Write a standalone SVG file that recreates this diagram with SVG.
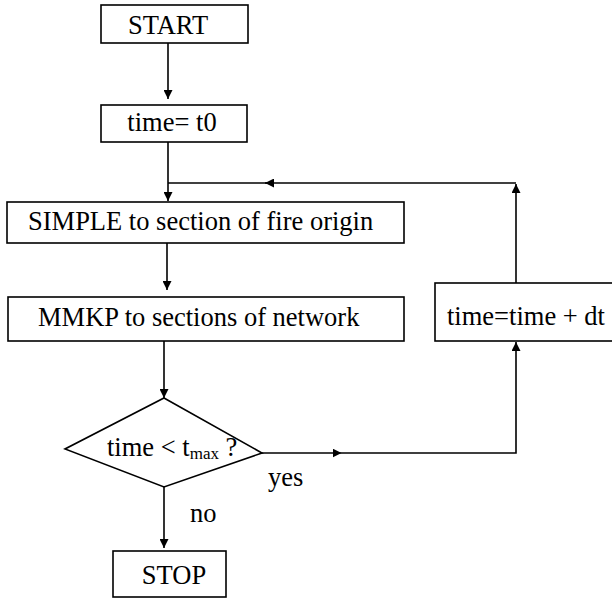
<svg xmlns="http://www.w3.org/2000/svg" width="612" height="599" viewBox="0 0 612 599">
<style>
.box{fill:#fff;stroke:#000;stroke-width:1.6}
.t{font-family:'Liberation Serif','DejaVu Serif','Times New Roman',serif;font-size:26.5px;fill:#000}
.c{fill:none;stroke:#000;stroke-width:1.6}
</style>
<defs>
<marker id="ah" viewBox="0 0 10 10" refX="10" refY="5" markerWidth="9" markerHeight="9" markerUnits="userSpaceOnUse" orient="auto">
<path d="M0,0 L10,5 L0,10 z" fill="#000"/>
</marker>
<marker id="mid" viewBox="0 0 10 10" refX="5" refY="5" markerWidth="9" markerHeight="9" markerUnits="userSpaceOnUse" orient="auto">
<path d="M0,0 L10,5 L0,10 z" fill="#000"/>
</marker>
</defs>
<rect width="612" height="599" fill="#fff"/>
<g id="connectors">
<line class="c" x1="168" y1="43" x2="168" y2="99" marker-end="url(#ah)"/>
<line class="c" x1="168" y1="142" x2="168" y2="201" marker-end="url(#ah)"/>
<line class="c" x1="167" y1="243" x2="167" y2="290" marker-end="url(#ah)"/>
<line class="c" x1="164" y1="341" x2="164" y2="398" marker-end="url(#ah)"/>
<line class="c" x1="164" y1="487" x2="164" y2="548" marker-end="url(#ah)"/>
<polyline class="c" points="262,453 337,453" marker-end="url(#mid)"/>
<polyline class="c" points="333,453 516,453 516,342" marker-end="url(#ah)"/>
<polyline class="c" points="516,283 516,184" marker-end="url(#ah)"/>
<polyline class="c" points="516,183 265,183" marker-end="url(#ah)"/>
<line class="c" x1="268" y1="183" x2="168" y2="183"/>
<text class="t" x="268" y="486">yes</text>
<text class="t" x="190" y="522">no</text>
</g>
<g id="start">
<rect class="box" x="101" y="5" width="147" height="38"/>
<text class="t" x="168" y="34" text-anchor="middle">START</text>
</g>
<g id="init">
<rect class="box" x="101" y="105" width="146" height="37"/>
<text class="t" x="172" y="131" text-anchor="middle">time= t0</text>
</g>
<g id="simple">
<rect class="box" x="7" y="202" width="397" height="41"/>
<text class="t" x="28" y="230">SIMPLE to section of fire origin</text>
</g>
<g id="mmkp">
<rect class="box" x="8" y="297" width="396" height="44"/>
<text class="t" x="38" y="326">MMKP to sections of network</text>
</g>
<g id="decision">
<polygon class="box" points="164,398 262,453 164,487 65,449"/>
<text class="t" x="107" y="456">time &lt; t<tspan font-size="17" dy="3">max</tspan><tspan dy="-3"> ?</tspan></text>
</g>
<g id="increment">
<rect class="box" x="435" y="283" width="185" height="58"/>
<text class="t" x="447" y="325">time=time + dt</text>
</g>
<g id="stop">
<rect class="box" x="113" y="551" width="113" height="46"/>
<text class="t" x="174" y="584" text-anchor="middle">STOP</text>
</g>
</svg>
